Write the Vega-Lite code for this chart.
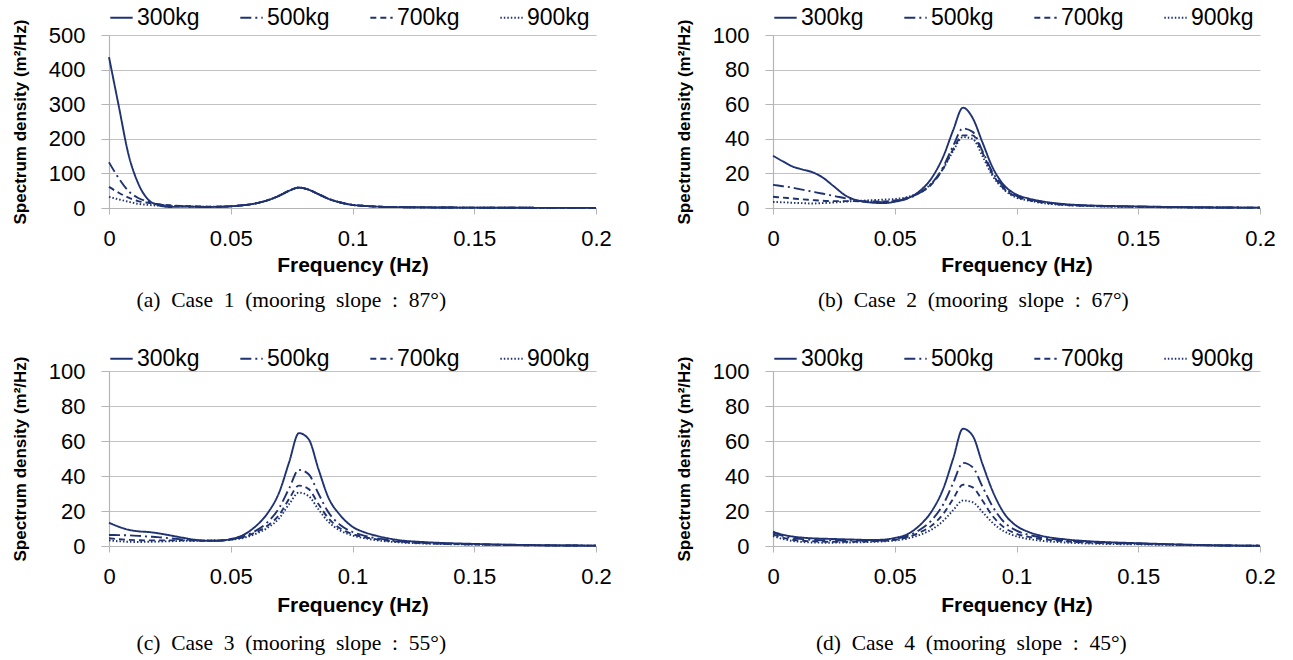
{
"$schema": "https://vega.github.io/schema/vega-lite/v6.json",
"background": "white",
"padding": {"left": 11, "top": 5, "right": 5, "bottom": 3},
"config": {
 "view": {"stroke": null},
 "font": "Liberation Sans",
 "axis": {"labelFont": "Liberation Sans", "labelFontSize": 22, "labelColor": "#000", "titleFont": "Liberation Sans", "titleFontWeight": "bold", "titleColor": "#000", "domainColor": "#b5b5b5", "tickColor": "#b5b5b5", "gridColor": "#c2c2c2", "gridWidth": 1.2, "domainWidth": 1.2},
 "axisX": {"grid": false, "tickSize": 6, "labelPadding": 14, "titleFontSize": 21, "titlePadding": 5, "labelFlush": false},
 "axisY": {"grid": true, "tickSize": 8, "labelPadding": 16, "titleFontSize": 17, "titlePadding": 19},
 "legend": {"orient": "top", "direction": "horizontal", "title": null, "symbolType": "stroke", "symbolSize": 500, "symbolStrokeColor": "#1f3272", "symbolStrokeWidth": 2, "labelFont": "Liberation Sans", "labelFontSize": 23, "labelColor": "#000", "columnPadding": 36, "labelOffset": 3, "offset": 5, "padding": 0},
 "title": {"font": "Liberation Serif", "fontSize": 21.5, "fontWeight": "normal", "color": "#000"},
 "line": {"color": "#1f3272", "strokeWidth": 1.9, "interpolate": "monotone"}
},
"datasets": {
"a": [
{"f":0,"s":"300kg","v":436},{"f":0.004,"s":"300kg","v":295},{"f":0.008,"s":"300kg","v":155},{"f":0.012,"s":"300kg","v":71},{"f":0.016,"s":"300kg","v":25},{"f":0.02,"s":"300kg","v":9},{"f":0.025,"s":"300kg","v":3},{"f":0.03,"s":"300kg","v":4},{"f":0.035,"s":"300kg","v":3.5},{"f":0.04,"s":"300kg","v":3},{"f":0.045,"s":"300kg","v":3.5},{"f":0.05,"s":"300kg","v":5},{"f":0.055,"s":"300kg","v":8},{"f":0.06,"s":"300kg","v":13},{"f":0.065,"s":"300kg","v":22},{"f":0.07,"s":"300kg","v":36},{"f":0.074,"s":"300kg","v":50},{"f":0.078,"s":"300kg","v":59},{"f":0.082,"s":"300kg","v":53},{"f":0.086,"s":"300kg","v":40},{"f":0.09,"s":"300kg","v":27},{"f":0.095,"s":"300kg","v":16},{"f":0.1,"s":"300kg","v":9},{"f":0.105,"s":"300kg","v":6},{"f":0.11,"s":"300kg","v":4},{"f":0.12,"s":"300kg","v":2.5},{"f":0.13,"s":"300kg","v":1.8},{"f":0.15,"s":"300kg","v":1},{"f":0.175,"s":"300kg","v":0.5},{"f":0.2,"s":"300kg","v":0.3},
{"f":0,"s":"500kg","v":132},{"f":0.004,"s":"500kg","v":86},{"f":0.008,"s":"500kg","v":49},{"f":0.012,"s":"500kg","v":29},{"f":0.016,"s":"500kg","v":18},{"f":0.02,"s":"500kg","v":11},{"f":0.025,"s":"500kg","v":7},{"f":0.03,"s":"500kg","v":5},{"f":0.035,"s":"500kg","v":4},{"f":0.04,"s":"500kg","v":3.3},{"f":0.045,"s":"500kg","v":3.6},{"f":0.05,"s":"500kg","v":5},{"f":0.055,"s":"500kg","v":8},{"f":0.06,"s":"500kg","v":13},{"f":0.065,"s":"500kg","v":22},{"f":0.07,"s":"500kg","v":36},{"f":0.074,"s":"500kg","v":50},{"f":0.078,"s":"500kg","v":59},{"f":0.082,"s":"500kg","v":53},{"f":0.086,"s":"500kg","v":40},{"f":0.09,"s":"500kg","v":27},{"f":0.095,"s":"500kg","v":16},{"f":0.1,"s":"500kg","v":9},{"f":0.105,"s":"500kg","v":6},{"f":0.11,"s":"500kg","v":4},{"f":0.12,"s":"500kg","v":2.5},{"f":0.13,"s":"500kg","v":1.8},{"f":0.15,"s":"500kg","v":1},{"f":0.175,"s":"500kg","v":0.5},{"f":0.2,"s":"500kg","v":0.3},
{"f":0,"s":"700kg","v":61},{"f":0.004,"s":"700kg","v":44},{"f":0.008,"s":"700kg","v":30},{"f":0.012,"s":"700kg","v":20},{"f":0.016,"s":"700kg","v":15},{"f":0.02,"s":"700kg","v":11},{"f":0.025,"s":"700kg","v":8},{"f":0.03,"s":"700kg","v":6},{"f":0.035,"s":"700kg","v":5},{"f":0.04,"s":"700kg","v":4},{"f":0.045,"s":"700kg","v":3.8},{"f":0.05,"s":"700kg","v":5},{"f":0.055,"s":"700kg","v":8},{"f":0.06,"s":"700kg","v":13},{"f":0.065,"s":"700kg","v":22},{"f":0.07,"s":"700kg","v":36},{"f":0.074,"s":"700kg","v":50},{"f":0.078,"s":"700kg","v":59},{"f":0.082,"s":"700kg","v":53},{"f":0.086,"s":"700kg","v":40},{"f":0.09,"s":"700kg","v":27},{"f":0.095,"s":"700kg","v":16},{"f":0.1,"s":"700kg","v":9},{"f":0.105,"s":"700kg","v":6},{"f":0.11,"s":"700kg","v":4},{"f":0.12,"s":"700kg","v":2.5},{"f":0.13,"s":"700kg","v":1.8},{"f":0.15,"s":"700kg","v":1},{"f":0.175,"s":"700kg","v":0.5},{"f":0.2,"s":"700kg","v":0.3},
{"f":0,"s":"900kg","v":32},{"f":0.004,"s":"900kg","v":25},{"f":0.008,"s":"900kg","v":18},{"f":0.012,"s":"900kg","v":12},{"f":0.016,"s":"900kg","v":9},{"f":0.02,"s":"900kg","v":7},{"f":0.025,"s":"900kg","v":6},{"f":0.03,"s":"900kg","v":5},{"f":0.035,"s":"900kg","v":4},{"f":0.04,"s":"900kg","v":3.6},{"f":0.045,"s":"900kg","v":3.8},{"f":0.05,"s":"900kg","v":5},{"f":0.055,"s":"900kg","v":8},{"f":0.06,"s":"900kg","v":13},{"f":0.065,"s":"900kg","v":22},{"f":0.07,"s":"900kg","v":36},{"f":0.074,"s":"900kg","v":50},{"f":0.078,"s":"900kg","v":59},{"f":0.082,"s":"900kg","v":53},{"f":0.086,"s":"900kg","v":40},{"f":0.09,"s":"900kg","v":27},{"f":0.095,"s":"900kg","v":16},{"f":0.1,"s":"900kg","v":9},{"f":0.105,"s":"900kg","v":6},{"f":0.11,"s":"900kg","v":4},{"f":0.12,"s":"900kg","v":2.5},{"f":0.13,"s":"900kg","v":1.8},{"f":0.15,"s":"900kg","v":1},{"f":0.175,"s":"900kg","v":0.5},{"f":0.2,"s":"900kg","v":0.3}
],
"b": [
{"f":0,"s":"300kg","v":30.2},{"f":0.004,"s":"300kg","v":27},{"f":0.008,"s":"300kg","v":24},{"f":0.012,"s":"300kg","v":22.3},{"f":0.016,"s":"300kg","v":20.8},{"f":0.02,"s":"300kg","v":18},{"f":0.025,"s":"300kg","v":12.5},{"f":0.03,"s":"300kg","v":7},{"f":0.035,"s":"300kg","v":4.3},{"f":0.04,"s":"300kg","v":3.2},{"f":0.045,"s":"300kg","v":2.8},{"f":0.05,"s":"300kg","v":3.6},{"f":0.055,"s":"300kg","v":5.4},{"f":0.06,"s":"300kg","v":9.5},{"f":0.065,"s":"300kg","v":17},{"f":0.07,"s":"300kg","v":30},{"f":0.074,"s":"300kg","v":45},{"f":0.078,"s":"300kg","v":58},{"f":0.082,"s":"300kg","v":52},{"f":0.086,"s":"300kg","v":38},{"f":0.09,"s":"300kg","v":24},{"f":0.095,"s":"300kg","v":13},{"f":0.1,"s":"300kg","v":7.8},{"f":0.105,"s":"300kg","v":5.5},{"f":0.11,"s":"300kg","v":4},{"f":0.12,"s":"300kg","v":2.2},{"f":0.13,"s":"300kg","v":1.5},{"f":0.15,"s":"300kg","v":0.9},{"f":0.175,"s":"300kg","v":0.4},{"f":0.2,"s":"300kg","v":0.2},
{"f":0,"s":"500kg","v":13.4},{"f":0.004,"s":"500kg","v":12.6},{"f":0.008,"s":"500kg","v":11.8},{"f":0.012,"s":"500kg","v":10.6},{"f":0.016,"s":"500kg","v":9.5},{"f":0.02,"s":"500kg","v":8.4},{"f":0.025,"s":"500kg","v":7},{"f":0.03,"s":"500kg","v":5.5},{"f":0.035,"s":"500kg","v":4.2},{"f":0.04,"s":"500kg","v":3.6},{"f":0.045,"s":"500kg","v":3.4},{"f":0.05,"s":"500kg","v":4},{"f":0.055,"s":"500kg","v":5.5},{"f":0.06,"s":"500kg","v":8.5},{"f":0.065,"s":"500kg","v":14},{"f":0.07,"s":"500kg","v":24},{"f":0.074,"s":"500kg","v":36},{"f":0.078,"s":"500kg","v":46},{"f":0.082,"s":"500kg","v":44},{"f":0.086,"s":"500kg","v":33},{"f":0.09,"s":"500kg","v":21},{"f":0.095,"s":"500kg","v":12},{"f":0.1,"s":"500kg","v":7},{"f":0.105,"s":"500kg","v":5},{"f":0.11,"s":"500kg","v":3.6},{"f":0.12,"s":"500kg","v":2},{"f":0.13,"s":"500kg","v":1.3},{"f":0.15,"s":"500kg","v":0.8},{"f":0.175,"s":"500kg","v":0.4},{"f":0.2,"s":"500kg","v":0.2},
{"f":0,"s":"700kg","v":6.5},{"f":0.004,"s":"700kg","v":6},{"f":0.008,"s":"700kg","v":5.5},{"f":0.012,"s":"700kg","v":5},{"f":0.016,"s":"700kg","v":4.6},{"f":0.02,"s":"700kg","v":4.2},{"f":0.025,"s":"700kg","v":4},{"f":0.03,"s":"700kg","v":4},{"f":0.035,"s":"700kg","v":3.9},{"f":0.04,"s":"700kg","v":3.8},{"f":0.045,"s":"700kg","v":3.8},{"f":0.05,"s":"700kg","v":4.3},{"f":0.055,"s":"700kg","v":5.8},{"f":0.06,"s":"700kg","v":8.5},{"f":0.065,"s":"700kg","v":13.5},{"f":0.07,"s":"700kg","v":23},{"f":0.074,"s":"700kg","v":34},{"f":0.078,"s":"700kg","v":42},{"f":0.082,"s":"700kg","v":42},{"f":0.086,"s":"700kg","v":32},{"f":0.09,"s":"700kg","v":20},{"f":0.095,"s":"700kg","v":11},{"f":0.1,"s":"700kg","v":6.5},{"f":0.105,"s":"700kg","v":4.6},{"f":0.11,"s":"700kg","v":3.3},{"f":0.12,"s":"700kg","v":1.8},{"f":0.13,"s":"700kg","v":1.2},{"f":0.15,"s":"700kg","v":0.7},{"f":0.175,"s":"700kg","v":0.3},{"f":0.2,"s":"700kg","v":0.2},
{"f":0,"s":"900kg","v":3.5},{"f":0.004,"s":"900kg","v":3.3},{"f":0.008,"s":"900kg","v":3},{"f":0.012,"s":"900kg","v":2.8},{"f":0.016,"s":"900kg","v":2.6},{"f":0.02,"s":"900kg","v":2.8},{"f":0.025,"s":"900kg","v":3.2},{"f":0.03,"s":"900kg","v":3.7},{"f":0.035,"s":"900kg","v":4.1},{"f":0.04,"s":"900kg","v":4.5},{"f":0.045,"s":"900kg","v":4.8},{"f":0.05,"s":"900kg","v":5.2},{"f":0.055,"s":"900kg","v":6.3},{"f":0.06,"s":"900kg","v":9},{"f":0.065,"s":"900kg","v":14},{"f":0.07,"s":"900kg","v":23},{"f":0.074,"s":"900kg","v":33},{"f":0.078,"s":"900kg","v":41},{"f":0.082,"s":"900kg","v":40},{"f":0.086,"s":"900kg","v":30},{"f":0.09,"s":"900kg","v":19},{"f":0.095,"s":"900kg","v":10.5},{"f":0.1,"s":"900kg","v":6},{"f":0.105,"s":"900kg","v":4.3},{"f":0.11,"s":"900kg","v":3},{"f":0.12,"s":"900kg","v":1.7},{"f":0.13,"s":"900kg","v":1.1},{"f":0.15,"s":"900kg","v":0.6},{"f":0.175,"s":"900kg","v":0.3},{"f":0.2,"s":"900kg","v":0.2}
],
"c": [
{"f":0,"s":"300kg","v":13.3},{"f":0.004,"s":"300kg","v":11},{"f":0.008,"s":"300kg","v":9.3},{"f":0.012,"s":"300kg","v":8.4},{"f":0.016,"s":"300kg","v":8},{"f":0.02,"s":"300kg","v":7.3},{"f":0.025,"s":"300kg","v":6.1},{"f":0.03,"s":"300kg","v":4.8},{"f":0.035,"s":"300kg","v":3.6},{"f":0.04,"s":"300kg","v":3},{"f":0.045,"s":"300kg","v":3},{"f":0.05,"s":"300kg","v":4},{"f":0.055,"s":"300kg","v":6.2},{"f":0.06,"s":"300kg","v":11},{"f":0.065,"s":"300kg","v":18.5},{"f":0.07,"s":"300kg","v":31},{"f":0.074,"s":"300kg","v":48},{"f":0.078,"s":"300kg","v":64.5},{"f":0.082,"s":"300kg","v":61},{"f":0.086,"s":"300kg","v":44},{"f":0.09,"s":"300kg","v":28},{"f":0.095,"s":"300kg","v":17.5},{"f":0.1,"s":"300kg","v":11},{"f":0.105,"s":"300kg","v":7.8},{"f":0.11,"s":"300kg","v":5.8},{"f":0.12,"s":"300kg","v":3.2},{"f":0.13,"s":"300kg","v":2.2},{"f":0.15,"s":"300kg","v":1.2},{"f":0.175,"s":"300kg","v":0.5},{"f":0.2,"s":"300kg","v":0.2},
{"f":0,"s":"500kg","v":6.3},{"f":0.004,"s":"500kg","v":6.2},{"f":0.008,"s":"500kg","v":6.1},{"f":0.012,"s":"500kg","v":5.8},{"f":0.016,"s":"500kg","v":5.4},{"f":0.02,"s":"500kg","v":5.1},{"f":0.025,"s":"500kg","v":4.4},{"f":0.03,"s":"500kg","v":3.8},{"f":0.035,"s":"500kg","v":3.3},{"f":0.04,"s":"500kg","v":3},{"f":0.045,"s":"500kg","v":3.1},{"f":0.05,"s":"500kg","v":3.8},{"f":0.055,"s":"500kg","v":5.4},{"f":0.06,"s":"500kg","v":8.5},{"f":0.065,"s":"500kg","v":13.5},{"f":0.07,"s":"500kg","v":22},{"f":0.074,"s":"500kg","v":33},{"f":0.078,"s":"500kg","v":43.5},{"f":0.082,"s":"500kg","v":41},{"f":0.086,"s":"500kg","v":30},{"f":0.09,"s":"500kg","v":19.5},{"f":0.095,"s":"500kg","v":12},{"f":0.1,"s":"500kg","v":8},{"f":0.105,"s":"500kg","v":5.8},{"f":0.11,"s":"500kg","v":4.4},{"f":0.12,"s":"500kg","v":2.6},{"f":0.13,"s":"500kg","v":1.8},{"f":0.15,"s":"500kg","v":1},{"f":0.175,"s":"500kg","v":0.5},{"f":0.2,"s":"500kg","v":0.2},
{"f":0,"s":"700kg","v":4.4},{"f":0.004,"s":"700kg","v":3.9},{"f":0.008,"s":"700kg","v":3.5},{"f":0.012,"s":"700kg","v":3.3},{"f":0.016,"s":"700kg","v":3.2},{"f":0.02,"s":"700kg","v":3.2},{"f":0.025,"s":"700kg","v":3.2},{"f":0.03,"s":"700kg","v":3.2},{"f":0.035,"s":"700kg","v":3.1},{"f":0.04,"s":"700kg","v":3},{"f":0.045,"s":"700kg","v":3.1},{"f":0.05,"s":"700kg","v":3.7},{"f":0.055,"s":"700kg","v":5},{"f":0.06,"s":"700kg","v":7.6},{"f":0.065,"s":"700kg","v":11.5},{"f":0.07,"s":"700kg","v":18},{"f":0.074,"s":"700kg","v":27},{"f":0.078,"s":"700kg","v":34.5},{"f":0.082,"s":"700kg","v":32.5},{"f":0.086,"s":"700kg","v":24},{"f":0.09,"s":"700kg","v":16},{"f":0.095,"s":"700kg","v":10},{"f":0.1,"s":"700kg","v":6.8},{"f":0.105,"s":"700kg","v":5},{"f":0.11,"s":"700kg","v":3.8},{"f":0.12,"s":"700kg","v":2.3},{"f":0.13,"s":"700kg","v":1.6},{"f":0.15,"s":"700kg","v":0.9},{"f":0.175,"s":"700kg","v":0.4},{"f":0.2,"s":"700kg","v":0.2},
{"f":0,"s":"900kg","v":3.2},{"f":0.004,"s":"900kg","v":2.7},{"f":0.008,"s":"900kg","v":2.4},{"f":0.012,"s":"900kg","v":2.3},{"f":0.016,"s":"900kg","v":2.4},{"f":0.02,"s":"900kg","v":2.5},{"f":0.025,"s":"900kg","v":2.7},{"f":0.03,"s":"900kg","v":2.9},{"f":0.035,"s":"900kg","v":3},{"f":0.04,"s":"900kg","v":3.1},{"f":0.045,"s":"900kg","v":3.2},{"f":0.05,"s":"900kg","v":3.6},{"f":0.055,"s":"900kg","v":4.6},{"f":0.06,"s":"900kg","v":6.8},{"f":0.065,"s":"900kg","v":10.3},{"f":0.07,"s":"900kg","v":16},{"f":0.074,"s":"900kg","v":24},{"f":0.078,"s":"900kg","v":30.5},{"f":0.082,"s":"900kg","v":28.5},{"f":0.086,"s":"900kg","v":21},{"f":0.09,"s":"900kg","v":14},{"f":0.095,"s":"900kg","v":8.8},{"f":0.1,"s":"900kg","v":6},{"f":0.105,"s":"900kg","v":4.4},{"f":0.11,"s":"900kg","v":3.3},{"f":0.12,"s":"900kg","v":2},{"f":0.13,"s":"900kg","v":1.4},{"f":0.15,"s":"900kg","v":0.8},{"f":0.175,"s":"900kg","v":0.4},{"f":0.2,"s":"900kg","v":0.2}
],
"d": [
{"f":0,"s":"300kg","v":8.2},{"f":0.004,"s":"300kg","v":6.5},{"f":0.008,"s":"300kg","v":5.4},{"f":0.012,"s":"300kg","v":4.8},{"f":0.016,"s":"300kg","v":4.4},{"f":0.02,"s":"300kg","v":4.2},{"f":0.025,"s":"300kg","v":4},{"f":0.03,"s":"300kg","v":3.8},{"f":0.035,"s":"300kg","v":3.6},{"f":0.04,"s":"300kg","v":3.4},{"f":0.045,"s":"300kg","v":3.6},{"f":0.05,"s":"300kg","v":4.6},{"f":0.055,"s":"300kg","v":6.6},{"f":0.06,"s":"300kg","v":11.5},{"f":0.065,"s":"300kg","v":19.5},{"f":0.07,"s":"300kg","v":33},{"f":0.074,"s":"300kg","v":50},{"f":0.078,"s":"300kg","v":67},{"f":0.082,"s":"300kg","v":63},{"f":0.086,"s":"300kg","v":47},{"f":0.09,"s":"300kg","v":32},{"f":0.095,"s":"300kg","v":18.5},{"f":0.1,"s":"300kg","v":11.5},{"f":0.105,"s":"300kg","v":8},{"f":0.11,"s":"300kg","v":5.9},{"f":0.12,"s":"300kg","v":3.8},{"f":0.13,"s":"300kg","v":2.7},{"f":0.15,"s":"300kg","v":1.6},{"f":0.175,"s":"300kg","v":0.6},{"f":0.2,"s":"300kg","v":0.1},
{"f":0,"s":"500kg","v":7.6},{"f":0.004,"s":"500kg","v":5.8},{"f":0.008,"s":"500kg","v":4.6},{"f":0.012,"s":"500kg","v":3.9},{"f":0.016,"s":"500kg","v":3.5},{"f":0.02,"s":"500kg","v":3.3},{"f":0.025,"s":"500kg","v":3.2},{"f":0.03,"s":"500kg","v":3.1},{"f":0.035,"s":"500kg","v":3.1},{"f":0.04,"s":"500kg","v":3.1},{"f":0.045,"s":"500kg","v":3.3},{"f":0.05,"s":"500kg","v":4},{"f":0.055,"s":"500kg","v":5.6},{"f":0.06,"s":"500kg","v":9},{"f":0.065,"s":"500kg","v":14.5},{"f":0.07,"s":"500kg","v":24},{"f":0.074,"s":"500kg","v":36},{"f":0.078,"s":"500kg","v":47.5},{"f":0.082,"s":"500kg","v":45},{"f":0.086,"s":"500kg","v":34},{"f":0.09,"s":"500kg","v":23},{"f":0.095,"s":"500kg","v":13.5},{"f":0.1,"s":"500kg","v":8.8},{"f":0.105,"s":"500kg","v":6.4},{"f":0.11,"s":"500kg","v":4.9},{"f":0.12,"s":"500kg","v":3.2},{"f":0.13,"s":"500kg","v":2.3},{"f":0.15,"s":"500kg","v":1.4},{"f":0.175,"s":"500kg","v":0.5},{"f":0.2,"s":"500kg","v":0.1},
{"f":0,"s":"700kg","v":6.6},{"f":0.004,"s":"700kg","v":4.8},{"f":0.008,"s":"700kg","v":3.6},{"f":0.012,"s":"700kg","v":3},{"f":0.016,"s":"700kg","v":2.7},{"f":0.02,"s":"700kg","v":2.5},{"f":0.025,"s":"700kg","v":2.4},{"f":0.03,"s":"700kg","v":2.4},{"f":0.035,"s":"700kg","v":2.5},{"f":0.04,"s":"700kg","v":2.6},{"f":0.045,"s":"700kg","v":2.9},{"f":0.05,"s":"700kg","v":3.5},{"f":0.055,"s":"700kg","v":4.9},{"f":0.06,"s":"700kg","v":7.6},{"f":0.065,"s":"700kg","v":11.5},{"f":0.07,"s":"700kg","v":18.5},{"f":0.074,"s":"700kg","v":27},{"f":0.078,"s":"700kg","v":35},{"f":0.082,"s":"700kg","v":33.5},{"f":0.086,"s":"700kg","v":26},{"f":0.09,"s":"700kg","v":17.5},{"f":0.095,"s":"700kg","v":10.5},{"f":0.1,"s":"700kg","v":7},{"f":0.105,"s":"700kg","v":5.2},{"f":0.11,"s":"700kg","v":4},{"f":0.12,"s":"700kg","v":2.7},{"f":0.13,"s":"700kg","v":1.9},{"f":0.15,"s":"700kg","v":1.2},{"f":0.175,"s":"700kg","v":0.5},{"f":0.2,"s":"700kg","v":0.1},
{"f":0,"s":"900kg","v":5.7},{"f":0.004,"s":"900kg","v":4},{"f":0.008,"s":"900kg","v":2.9},{"f":0.012,"s":"900kg","v":2.3},{"f":0.016,"s":"900kg","v":2},{"f":0.02,"s":"900kg","v":1.9},{"f":0.025,"s":"900kg","v":1.9},{"f":0.03,"s":"900kg","v":2},{"f":0.035,"s":"900kg","v":2.1},{"f":0.04,"s":"900kg","v":2.3},{"f":0.045,"s":"900kg","v":2.6},{"f":0.05,"s":"900kg","v":3.1},{"f":0.055,"s":"900kg","v":4.2},{"f":0.06,"s":"900kg","v":6.2},{"f":0.065,"s":"900kg","v":9.3},{"f":0.07,"s":"900kg","v":14.5},{"f":0.074,"s":"900kg","v":20.5},{"f":0.078,"s":"900kg","v":26},{"f":0.082,"s":"900kg","v":25},{"f":0.086,"s":"900kg","v":19.5},{"f":0.09,"s":"900kg","v":13.5},{"f":0.095,"s":"900kg","v":8.3},{"f":0.1,"s":"900kg","v":5.5},{"f":0.105,"s":"900kg","v":4},{"f":0.11,"s":"900kg","v":3},{"f":0.12,"s":"900kg","v":2},{"f":0.13,"s":"900kg","v":1.4},{"f":0.15,"s":"900kg","v":0.9},{"f":0.175,"s":"900kg","v":0.4},{"f":0.2,"s":"900kg","v":0.1}
]
},
"columns": 2,
"spacing": {"row": 34, "column": 63},
"concat": [
{
 "data": {"name": "a"},
 "width": 487, "height": 173,
 "title": {"text": "(a)\u00a0 Case\u00a0 1\u00a0 (mooring\u00a0 slope\u00a0 :\u00a0 87°)", "orient": "bottom", "anchor": "middle", "frame": "bounds", "dx": -20, "offset": 15},
 "mark": {"type": "line"},
 "encoding": {
  "x": {"field": "f", "type": "quantitative", "scale": {"domain": [0, 0.2], "nice": false}, "axis": {"values": [0, 0.05, 0.1, 0.15, 0.2], "format": "~g", "title": "Frequency (Hz)"}},
  "y": {"field": "v", "type": "quantitative", "scale": {"domain": [0, 500], "nice": false}, "axis": {"values": [0, 100, 200, 300, 400, 500], "title": "Spectrum density (m²/Hz)"}},
  "strokeDash": {"field": "s", "type": "nominal", "scale": {"domain": ["300kg", "500kg", "700kg", "900kg"], "range": [[1, 0], [11, 4, 2, 4], [6, 4], [1.5, 2]]}}
 }
},
{
 "data": {"name": "b"},
 "width": 487, "height": 173,
 "title": {"text": "(b)\u00a0 Case\u00a0 2\u00a0 (mooring\u00a0 slope\u00a0 :\u00a0 67°)", "orient": "bottom", "anchor": "middle", "frame": "bounds", "dx": -2, "offset": 15},
 "mark": {"type": "line"},
 "encoding": {
  "x": {"field": "f", "type": "quantitative", "scale": {"domain": [0, 0.2], "nice": false}, "axis": {"values": [0, 0.05, 0.1, 0.15, 0.2], "format": "~g", "title": "Frequency (Hz)"}},
  "y": {"field": "v", "type": "quantitative", "scale": {"domain": [0, 100], "nice": false}, "axis": {"values": [0, 20, 40, 60, 80, 100], "title": "Spectrum density (m²/Hz)"}},
  "strokeDash": {"field": "s", "type": "nominal", "scale": {"domain": ["300kg", "500kg", "700kg", "900kg"], "range": [[1, 0], [11, 4, 2, 4], [6, 4], [1.5, 2]]}}
 }
},
{
 "data": {"name": "c"},
 "width": 487, "height": 175,
 "title": {"text": "(c)\u00a0 Case\u00a0 3\u00a0 (mooring\u00a0 slope\u00a0 :\u00a0 55°)", "orient": "bottom", "anchor": "middle", "frame": "bounds", "dx": -20, "offset": 18},
 "mark": {"type": "line"},
 "encoding": {
  "x": {"field": "f", "type": "quantitative", "scale": {"domain": [0, 0.2], "nice": false}, "axis": {"values": [0, 0.05, 0.1, 0.15, 0.2], "format": "~g", "title": "Frequency (Hz)", "titlePadding": 7}},
  "y": {"field": "v", "type": "quantitative", "scale": {"domain": [0, 100], "nice": false}, "axis": {"values": [0, 20, 40, 60, 80, 100], "title": "Spectrum density (m²/Hz)"}},
  "strokeDash": {"field": "s", "type": "nominal", "scale": {"domain": ["300kg", "500kg", "700kg", "900kg"], "range": [[1, 0], [11, 4, 2, 4], [6, 4], [1.5, 2]]}, "legend": {"offset": 0}}
 }
},
{
 "data": {"name": "d"},
 "width": 487, "height": 175,
 "title": {"text": "(d)\u00a0 Case\u00a0 4\u00a0 (mooring\u00a0 slope\u00a0 :\u00a0 45°)", "orient": "bottom", "anchor": "middle", "frame": "bounds", "dx": -4, "offset": 18},
 "mark": {"type": "line"},
 "encoding": {
  "x": {"field": "f", "type": "quantitative", "scale": {"domain": [0, 0.2], "nice": false}, "axis": {"values": [0, 0.05, 0.1, 0.15, 0.2], "format": "~g", "title": "Frequency (Hz)", "titlePadding": 7}},
  "y": {"field": "v", "type": "quantitative", "scale": {"domain": [0, 100], "nice": false}, "axis": {"values": [0, 20, 40, 60, 80, 100], "title": "Spectrum density (m²/Hz)"}},
  "strokeDash": {"field": "s", "type": "nominal", "scale": {"domain": ["300kg", "500kg", "700kg", "900kg"], "range": [[1, 0], [11, 4, 2, 4], [6, 4], [1.5, 2]]}, "legend": {"offset": 0}}
 }
}
],
"resolve": {"scale": {"strokeDash": "independent"}, "legend": {"strokeDash": "independent"}}
}
